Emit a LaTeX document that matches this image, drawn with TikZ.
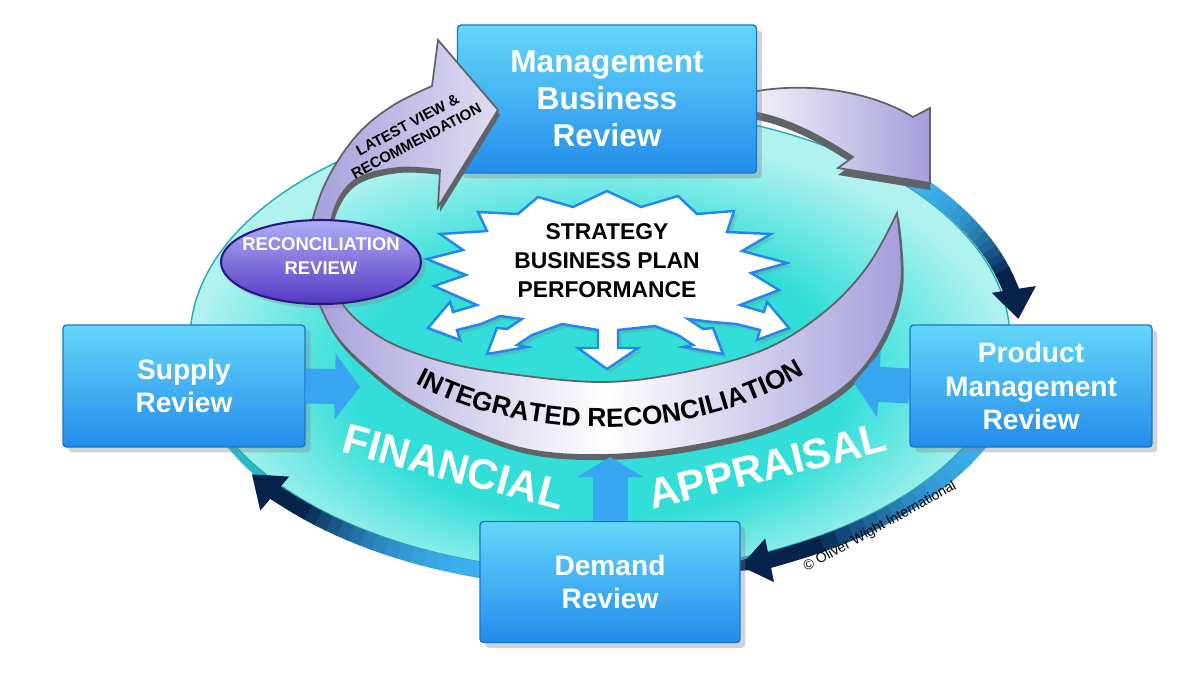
\documentclass[tikz,border=0pt]{standalone}
\usepackage{fontspec}
\setmainfont{Liberation Sans}
\usetikzlibrary{arrows.meta,decorations.text,shapes.geometric,shadows}

\begin{document}
\begin{tikzpicture}[x=0.02cm,y=-0.02cm]
\definecolor{diskin}{RGB}{50,222,215}
\definecolor{diskout}{RGB}{175,242,240}
\definecolor{diskrim}{RGB}{40,185,205}
\definecolor{diskedge}{RGB}{40,170,175}
\definecolor{ringlight}{RGB}{60,175,238}
\definecolor{ringdark}{RGB}{5,35,75}
\definecolor{boxtop}{RGB}{100,215,250}
\definecolor{boxbottom}{RGB}{35,140,235}
\definecolor{boxedge}{RGB}{25,115,215}
\definecolor{arrowblue}{RGB}{55,165,240}
\definecolor{lavender}{RGB}{165,158,218}
\definecolor{swooshedge}{RGB}{95,100,105}
\definecolor{burstedge}{RGB}{35,135,235}
\definecolor{ovaltop}{RGB}{175,175,245}
\definecolor{ovalbottom}{RGB}{85,55,195}
\definecolor{ovaledge}{RGB}{40,25,130}
\pgfdeclareradialshading{diskshade}{\pgfpoint{0bp}{-6bp}}{color(0bp)=(diskin); color(15bp)=(diskin);
  color(25bp)=(diskout); color(50bp)=(diskout)}
\tikzset{
     bluebox/.style={rectangle, rounded corners=2pt, top color=boxtop, bottom color=boxbottom,
       draw=boxedge, line width=0.8pt, text=white, align=center, inner sep=0pt,
       font=\bfseries\fontsize{16}{19}\selectfont,
       drop shadow={opacity=0.35, shadow xshift=3pt, shadow yshift=-3pt}},
     fatarrow/.style={draw=arrowblue, line width=0.7cm, -{Triangle[length=0.5cm, width=1.3cm]}},
     ringline/.style={line width=0.32cm},
     swooshline/.style={draw=swooshedge, line width=1pt},
     burstline/.style={draw=burstedge, line width=1.4pt, fill=white,
       drop shadow={opacity=0.3, shadow xshift=2pt, shadow yshift=-2pt}},
     bigword/.style={text=white, inner sep=0pt, font=\bfseries\fontsize{24}{24}\selectfont}}

% ring arc: start angle, end angle
\def\ringarrow#1#2{
  \foreach \i in {0,...,15}{
    \pgfmathsetmacro\aa{(#1)+((#2)-10-(#1))*\i/16}
    \pgfmathsetmacro\ab{(#1)+((#2)-10-(#1))*(\i+1)/16+0.3}
    \pgfmathtruncatemacro\pct{\i*\i/2.25}
    \draw[ringline, draw=ringdark!\pct!ringlight] (600,340) ++(\aa:420 and 240)
      arc[start angle=\aa, end angle=\ab, x radius=420, y radius=240];
  }
  \draw[ringline, draw=ringdark, -{Triangle[length=0.6cm, width=0.85cm]}]
    (600,340) ++({(#2)-10}:420 and 240)
    arc[start angle={(#2)-10}, end angle=#2, x radius=420, y radius=240];
}

\def\toparrow{(723,100) .. controls (790,76) and (870,90) .. (913,117) -- (930,108)
  -- (930,183) -- (838,168) -- (853,157) .. controls (815,132) and (770,108) .. (723,110) -- cycle}

\def\swoosh{(897,213) -- plot[smooth, tension=0.6] coordinates {(897,213) (901,283) (880,343)
  (840,390) (770,427) (680,448) (600,455) (530,450) (470,430) (410,400) (370,370) (337,337)
  (318,300) (308,260) (312,222) (328,178) (357,135) (392,106) (432,86)}
  -- (438,40) -- (498,110) -- (438,207)
  -- plot[smooth, tension=0.6] coordinates {(440,170) (397,168) (355,180) (334,210) (330,250)
  (340,300) (380,337) (437,360) (503,373) (600,382) (680,373) (763,350) (823,313) (867,267)
  (897,213)} -- cycle}

\useasboundingbox (0,0) rectangle (1199,677);
\fill[white] (0,0) rectangle (1199,677);

% The disk
\fill[diskrim] (600,350) ellipse [x radius=410, y radius=232];
\shade[shading=diskshade] (600,340) ellipse [x radius=410, y radius=232];
\draw[diskedge, line width=0.8pt] (600,340) ellipse [x radius=410, y radius=232];

% The ring
\ringarrow{-43}{-5}
\ringarrow{22}{70.5}
\ringarrow{105}{146}

% The arrow out of the review
\fill[swooshedge, shift={(0,7)}] \toparrow;
\draw[swooshline, left color=white, right color=lavender] \toparrow;

\node (mbr) [bluebox, minimum width=5.98cm, minimum height=2.96cm,
  font=\bfseries\fontsize{18}{21}\selectfont] at (607,99) {Management\\Business\\Review};

% The swoosh
\fill[swooshedge, shift={(2,5)}] \swoosh;
\draw[swooshline, left color=lavender, right color=lavender, middle color=white] \swoosh;

\node (latest) [rotate=28, align=center, font=\bfseries\fontsize{8.5}{10.5}\selectfont]
  at (412,133) {LATEST VIEW \&\\RECOMMENDATION};
\path[decorate, decoration={text along path, text align=center,
  text={|\bfseries\fontsize{15}{15}\selectfont|INTEGRATED RECONCILIATION}}]
  (405,378) .. controls (520,445) and (700,445) .. (815,368);

% The starburst
\filldraw[burstline] plot coordinates {(477,305) (434,286) (466,275) (427,259) (463,250)
  (440,234) (487,231) (478,212) (518,214) (538,197) (573,207) (607,191) (641,207) (678,196)
  (697,214) (734,211) (727,232) (771,234) (742,251) (787,263) (751,273) (779,290) (740,305)
  (764,312) (767,302) (789,328) (757,340) (760,330) (736,324) (712,322) (688,319) (703,329)
  (713,328) (723,354) (683,347) (693,345) (678,335) (655,326) (618,330) (618,348) (638,348)
  (607,369) (578,348) (598,348) (598,330) (562,324) (532,335) (517,345) (527,347) (487,354)
  (497,328) (507,329) (522,319) (500,316) (481,324) (457,330) (460,340) (428,328) (450,302)
  (453,312)} -- cycle;
\node (burst) [align=center, font=\bfseries\fontsize{13}{16.5}\selectfont]
  at (607,261) {STRATEGY\\BUSINESS PLAN\\PERFORMANCE};

% The oval
\node (recon) [ellipse, minimum width=4cm, minimum height=1.68cm, inner sep=0pt,
  top color=ovaltop, bottom color=ovalbottom, draw=ovaledge, line width=1.2pt,
  drop shadow={opacity=0.3}] at (321,262) {};
\node (recontext) [text=white, align=center, font=\bfseries\fontsize{10.5}{13.5}\selectfont]
  at (321,256) {RECONCILIATION\\REVIEW};

% The boxes
\node (supply) [bluebox, minimum width=4.84cm, minimum height=2.44cm] at (184,386) {Supply\\Review};
\node (product) [bluebox, minimum width=4.84cm, minimum height=2.44cm] at (1031,386) {Product\\Management\\Review};
\node (demand) [bluebox, minimum width=5.2cm, minimum height=2.42cm] at (610,582) {Demand\\Review};

\coordinate (supplyhead) at (360,387);
\coordinate (producthead) at (854,383);
\coordinate (demandhead) at (610,457);
\draw[fatarrow] (supply.east) -- (supplyhead);
\draw[fatarrow] (product.west) -- (producthead);
\draw[fatarrow, -{Triangle[length=0.4cm, width=1.3cm]}] (demand.north) -- (demandhead);

% The labels
\node (financial) [bigword, rotate=-15] at (454,467) {FINANCIAL};
\node (appraisal) [bigword, rotate=14] at (767,466) {APPRAISAL};
\node (copyright) [rotate=29, inner sep=0pt, font=\fontsize{8}{8}\selectfont]
  at (880,527) {© Oliver Wight International};
\end{tikzpicture}
\end{document}
